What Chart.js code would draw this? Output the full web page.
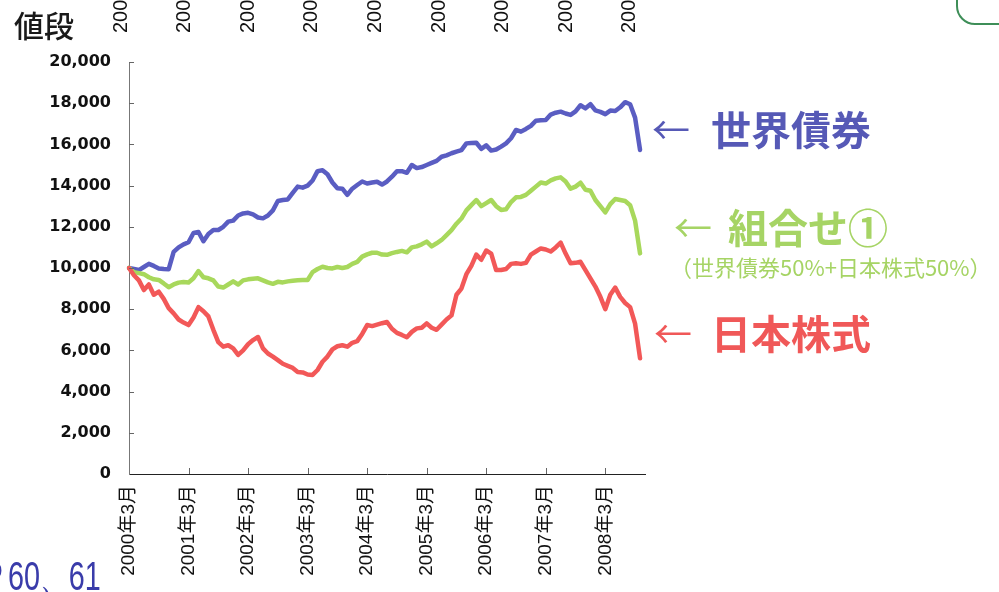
<!DOCTYPE html>
<html>
<head>
<meta charset="utf-8">
<script src="https://cdn.jsdelivr.net/npm/chart.js@4.4.0/dist/chart.umd.min.js"></script>
<style>
  html, body { margin: 0; padding: 0; background: #fff; overflow: hidden; }
  #wrap { position: relative; width: 999px; height: 592px; }
</style>
</head>
<body>
<div id="wrap"><canvas id="priceChart"></canvas></div>
<script>
////// data //////
// monthly, 2000年3月 .. 2008年10月 (axis runs one month further)
const startYear = 2000, startMonth = 3, monthCount = 105;
const months = [];
for (let i = 0; i < monthCount; i++) {
    const m = startMonth - 1 + i;
    months.push((startYear + Math.floor(m / 12)) + '年' + (m % 12 + 1) + '月');
}

const worldBond = [
    10000, 9950, 9900, 10050, 10200, 10100, 9980, 9950, 9940, 10780,
    11000, 11150, 11250, 11700, 11750, 11300, 11650, 11845, 11845, 12000,
    12250, 12300, 12550, 12650, 12680, 12600, 12450, 12410, 12550, 12800,
    13250, 13300, 13330, 13650, 13950, 13900, 14000, 14250, 14700, 14750,
    14550, 14150, 13870, 13850, 13550, 13850, 14030, 14200, 14100, 14150,
    14190, 14050, 14200, 14430, 14700, 14700, 14620, 15000, 14850, 14900,
    15000, 15100, 15200, 15400, 15470, 15570, 15650, 15720, 16050, 16070,
    16080, 15780, 15950, 15700, 15750, 15890, 16050, 16300, 16700, 16620,
    16750, 16900, 17150, 17170, 17180, 17450, 17540, 17590, 17500, 17430,
    17600, 17900, 17750, 17950, 17650, 17580, 17470, 17640, 17620, 17800,
    18050, 17950, 17300, 15730
];

const mix1 = [
    10000, 9800, 9750, 9700, 9550, 9450, 9420, 9250, 9070, 9200,
    9290, 9320, 9300, 9500, 9850, 9550, 9500, 9400, 9100, 9050,
    9200, 9350, 9200, 9400, 9450, 9480, 9500, 9400, 9300, 9230,
    9330, 9300, 9350, 9380, 9400, 9420, 9420, 9800, 9950, 10060,
    10000, 9980, 10050, 10000, 10050, 10200, 10300, 10550, 10660, 10740,
    10740, 10650, 10640, 10720, 10780, 10830, 10760, 11000, 11050, 11150,
    11280, 11050, 11200, 11360, 11600, 11840, 12150, 12400, 12800, 13050,
    13300, 13000, 13150, 13300, 13000, 12820, 12850, 13200, 13430, 13450,
    13550, 13750, 13950, 14150, 14100, 14250, 14350, 14400, 14200, 13850,
    13950, 14140, 13800, 13750, 13300, 13000, 12700, 13100, 13350, 13300,
    13250, 13050, 12300, 10710
];

const japanStock = [
    10000, 9650, 9400, 8930, 9200, 8700, 8850, 8500, 8050, 7800,
    7500, 7350, 7230, 7600, 8100, 7900, 7650, 7000, 6400, 6180,
    6250, 6100, 5780, 6000, 6300, 6500, 6650, 6100, 5850, 5700,
    5530, 5350, 5250, 5150, 4950, 4930, 4830, 4810, 5050, 5450,
    5700, 6050, 6200, 6250, 6180, 6370, 6450, 6800, 7230, 7180,
    7250, 7320, 7380, 7050, 6850, 6750, 6640, 6900, 7070, 7100,
    7310, 7100, 7000, 7250, 7500, 7700, 8700, 9000, 9700, 10100,
    10650, 10400, 10850, 10700, 9900, 9900, 9950, 10200, 10230, 10200,
    10250, 10650, 10800, 10950, 10900, 10800, 11000, 11230, 10700, 10230,
    10250, 10300, 9900, 9500, 9100, 8600, 8000, 8700, 9050, 8600,
    8300, 8100, 7300, 5620
];

const yMin = 0, yMax = 20000, yStep = 2000;
const topCutLabels = ['2000年3月', '2001年3月', '2002年3月', '2003年3月', '2004年3月',
    '2005年3月', '2006年3月', '2007年3月', '2008年3月'];

////// colours //////
const blue = '#5a5dc2';
const green = '#a8d85c';
const red = '#f25858';

////// decorations (texts round the chart) //////
const decoPlugin = {
    id: 'deco',
    afterDraw(chart) {
        const ctx = chart.ctx;
        const x = chart.scales.x, y = chart.scales.y;
        const area = chart.chartArea;
        ctx.save();

        // inward tick marks
        ctx.strokeStyle = '#666';
        ctx.lineWidth = 1;
        ctx.beginPath();
        for (let v = yMin + yStep; v <= yMax; v += yStep) {
            const py = Math.round(y.getPixelForValue(v)) + 0.5;
            ctx.moveTo(area.left, py);
            ctx.lineTo(area.left + 5, py);
        }
        for (let i = 12; i < monthCount; i += 12) {
            const px = Math.round(x.getPixelForValue(i)) + 0.5;
            ctx.moveTo(px, area.bottom);
            ctx.lineTo(px, area.bottom - 6);
        }
        ctx.stroke();

        // y-axis title
        ctx.fillStyle = '#1a1a1a';
        ctx.font = '500 30px "Noto Sans CJK JP"';
        ctx.textAlign = 'left';
        ctx.textBaseline = 'middle';
        ctx.fillText('値段', 14, 26);

        // labels of the chart above, cut by the top edge
        ctx.font = '20px "Liberation Sans", "Noto Sans CJK JP"';
        ctx.fillStyle = '#111';
        topCutLabels.forEach((t, i) => {
            ctx.save();
            ctx.translate(121 + 63.6 * i, 33);
            ctx.rotate(-Math.PI / 2);
            ctx.textAlign = 'left';
            ctx.textBaseline = 'middle';
            ctx.fillText(t, 0, 0);
            ctx.restore();
        });

        // series names on the right
        function named(arrowX, textX, cy, text, color) {
            ctx.fillStyle = color;
            ctx.textBaseline = 'middle';
            ctx.textAlign = 'left';
            ctx.font = '38px "Noto Sans CJK JP"';
            ctx.fillText('←', arrowX, cy);
            ctx.font = 'bold 40px "Noto Sans CJK JP"';
            ctx.fillText(text, textX, cy);
        }
        named(652, 711, 130, '世界債券', '#5659b6');
        named(674, 728, 228, '組合せ①', '#a6d465');
        named(654, 711, 334, '日本株式', '#f05858');

        ctx.fillStyle = '#a6d465';
        ctx.font = '22px "Noto Sans CJK JP"';
        ctx.fillText('（世界債券50%+日本株式50%）', 670, 268);

        // page reference, bottom left
        ctx.save();
        ctx.fillStyle = '#3a3caa';
        ctx.font = '40px "Liberation Sans"';
        ctx.textBaseline = 'alphabetic';
        ctx.translate(8, 590);
        ctx.scale(0.72, 1);
        ctx.textAlign = 'right';
        ctx.fillText('P', -5 / 0.72, 0);
        ctx.textAlign = 'left';
        ctx.fillText('60、61', 0, 0);
        ctx.restore();

        // rounded box peeking in at the top right
        ctx.strokeStyle = '#3e8e58';
        ctx.lineWidth = 2;
        ctx.beginPath();
        ctx.roundRect(957, -60, 120, 84, 18);
        ctx.stroke();

        ctx.restore();
    }
};

////// chart //////
const canvas = document.querySelector('#priceChart');

function line(label, data, color) {
    return {
        label: label,
        data: data,
        borderColor: color,
        backgroundColor: color,
        borderWidth: 4.5,
        pointRadius: 0,
        tension: 0,
        borderJoinStyle: 'round',
        borderCapStyle: 'round'
    };
}

let priceChart = new Chart(canvas, {
    type: 'line',
    data: {
        labels: months,
        datasets: [
            line('日本株式', japanStock, red),
            line('組合せ①', mix1, green),
            line('世界債券', worldBond, blue)
        ]
    },
    options: {
        responsive: true,
        maintainAspectRatio: false,
        animation: false,
        layout: { padding: { left: 0, top: 62, right: 354, bottom: 0 } },
        plugins: {
            legend: { display: false },
            tooltip: { enabled: false }
        },
        scales: {
            x: {
                type: 'category',
                offset: false,
                grid: { display: true, drawOnChartArea: false, drawTicks: false },
                border: { display: true, color: '#222', width: 1 },
                ticks: {
                    autoSkip: false,
                    minRotation: 90,
                    maxRotation: 90,
                    padding: 11,
                    color: '#111',
                    font: { family: '"Liberation Sans", "Noto Sans CJK JP"', size: 19 },
                    callback: function (value, index) {
                        return index % 12 === 0 ? months[index] : '';
                    }
                },
                afterFit(scale) { scale.height = 118; }
            },
            y: {
                min: yMin,
                max: yMax,
                grid: { display: true, drawOnChartArea: false, drawTicks: false },
                border: { display: true, color: '#777', width: 1 },
                ticks: {
                    stepSize: yStep,
                    padding: 18,
                    color: '#111',
                    font: { family: '"DejaVu Sans"', size: 16, weight: 'bold' },
                    callback: v => v.toLocaleString('en-US')
                },
                afterFit(scale) { scale.width = 129; }
            }
        }
    },
    plugins: [decoPlugin]
});
</script>
</body>
</html>
